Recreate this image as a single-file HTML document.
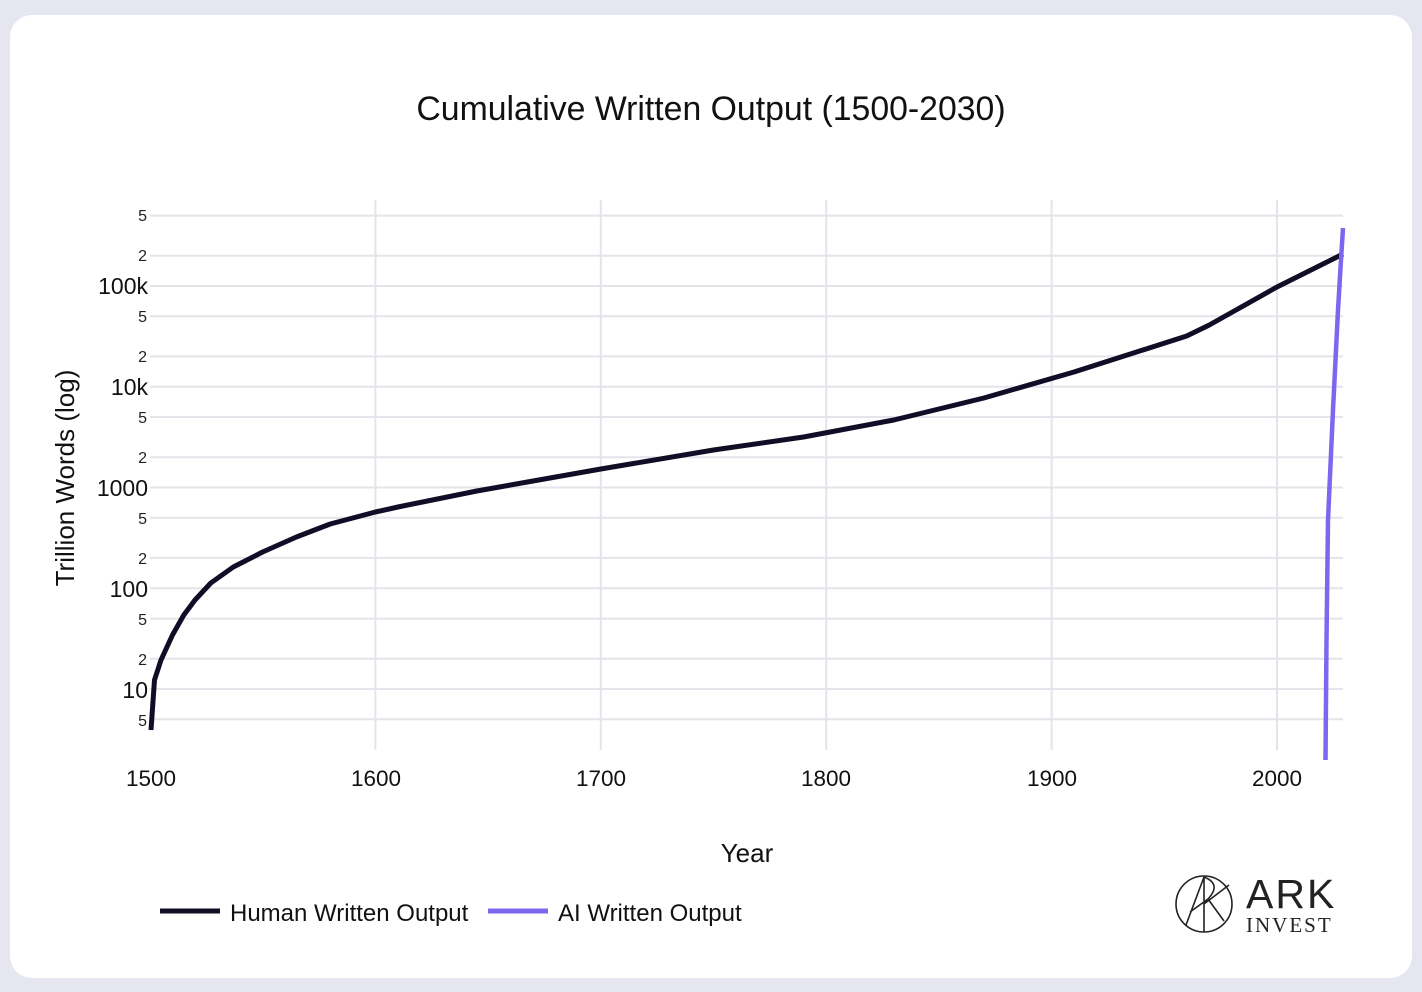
<!DOCTYPE html>
<html><head><meta charset="utf-8"><style>
html,body{margin:0;padding:0;background:#e6e6f0;}
body{width:1422px;height:992px;position:relative;overflow:hidden;font-family:"Liberation Sans",Arial,sans-serif;}
.card{position:absolute;left:10px;top:15px;width:1402px;height:963px;background:#fff;border-radius:22px;}
</style></head><body>
<div class="card"></div>
<svg width="1422" height="992" style="position:absolute;left:0;top:0" font-family="Liberation Sans, Arial, sans-serif">
<text x="711" y="120" text-anchor="middle" font-size="33.8" fill="#111">Cumulative Written Output (1500-2030)</text>
<g stroke="#e4e4ea" stroke-width="2">
<line x1="150" x2="1343" y1="215.6" y2="215.6"/><line x1="150" x2="1343" y1="255.7" y2="255.7"/><line x1="150" x2="1343" y1="286" y2="286"/>
<line x1="150" x2="1343" y1="316.3" y2="316.3"/><line x1="150" x2="1343" y1="356.4" y2="356.4"/><line x1="150" x2="1343" y1="386.75" y2="386.75"/>
<line x1="150" x2="1343" y1="417" y2="417"/><line x1="150" x2="1343" y1="457.2" y2="457.2"/><line x1="150" x2="1343" y1="487.5" y2="487.5"/>
<line x1="150" x2="1343" y1="517.8" y2="517.8"/><line x1="150" x2="1343" y1="557.9" y2="557.9"/><line x1="150" x2="1343" y1="588.25" y2="588.25"/>
<line x1="150" x2="1343" y1="618.6" y2="618.6"/><line x1="150" x2="1343" y1="658.7" y2="658.7"/><line x1="150" x2="1343" y1="689" y2="689"/>
<line x1="150" x2="1343" y1="719.3" y2="719.3"/>
<line x1="375.4" x2="375.4" y1="200" y2="750"/><line x1="600.8" x2="600.8" y1="200" y2="750"/><line x1="826.2" x2="826.2" y1="200" y2="750"/>
<line x1="1051.6" x2="1051.6" y1="200" y2="750"/><line x1="1277" x2="1277" y1="200" y2="750"/>
</g>
<g font-size="16" fill="#222" text-anchor="end">
<text x="147" y="221">5</text><text x="147" y="261">2</text><text x="147" y="322">5</text><text x="147" y="362">2</text>
<text x="147" y="423">5</text><text x="147" y="463">2</text><text x="147" y="524">5</text><text x="147" y="564">2</text>
<text x="147" y="625">5</text><text x="147" y="665">2</text><text x="147" y="726">5</text>
</g>
<g font-size="23" fill="#111" text-anchor="end">
<text x="148" y="294">100k</text><text x="148" y="395">10k</text><text x="148" y="496">1000</text><text x="148" y="597">100</text><text x="148" y="698">10</text>
</g>
<g font-size="22.5" fill="#111" text-anchor="middle">
<text x="151" y="786">1500</text><text x="376" y="786">1600</text><text x="601" y="786">1700</text><text x="826" y="786">1800</text><text x="1052" y="786">1900</text><text x="1277" y="786">2000</text>
</g>
<text x="747" y="862" text-anchor="middle" font-size="26" fill="#111">Year</text>
<text transform="translate(74,478) rotate(-90)" text-anchor="middle" font-size="26" fill="#111">Trillion Words (log)</text>
<polyline fill="none" stroke="#120d26" stroke-width="5" stroke-linejoin="round" points="151,730 154.5,680 161,660 172.5,635 183.8,615 195,600 210.8,583 233.3,567 262.6,552 296.4,537 330.2,524 375.4,512 398,507 476.8,491 600.8,469 713.5,450 803.6,437 893.8,420 983.9,398 1074,372 1186.7,336 1209.3,325 1277,287 1343,254"/>
<polyline fill="none" stroke="#7b68ee" stroke-width="4.5" points="1325.5,760 1326.5,640 1328,520 1333,410 1338,310 1341,260 1343,228"/>
<line x1="160" x2="220" y1="911" y2="911" stroke="#120d26" stroke-width="5"/>
<text x="230" y="921" font-size="24" fill="#111">Human Written Output</text>
<line x1="488" x2="548" y1="911" y2="911" stroke="#7b68ee" stroke-width="5"/>
<text x="558" y="921" font-size="24" fill="#111">AI Written Output</text>
<g fill="none" stroke="#222" stroke-width="1.6">
<circle cx="1204" cy="904" r="28"/>
<path d="M1186,925 L1204,877 L1204,932 M1204,877 Q1222,884 1208,899 L1190,912 M1208,899 L1224,921 M1204,904 L1229,885"/>
</g>
<text x="1246" y="908" font-size="41" fill="#222" font-family="Liberation Sans, sans-serif" letter-spacing="2">ARK</text>
<text x="1246" y="932" font-size="21" fill="#222" font-family="Liberation Serif, serif" letter-spacing="2">INVEST</text>
</svg>
</body></html>
